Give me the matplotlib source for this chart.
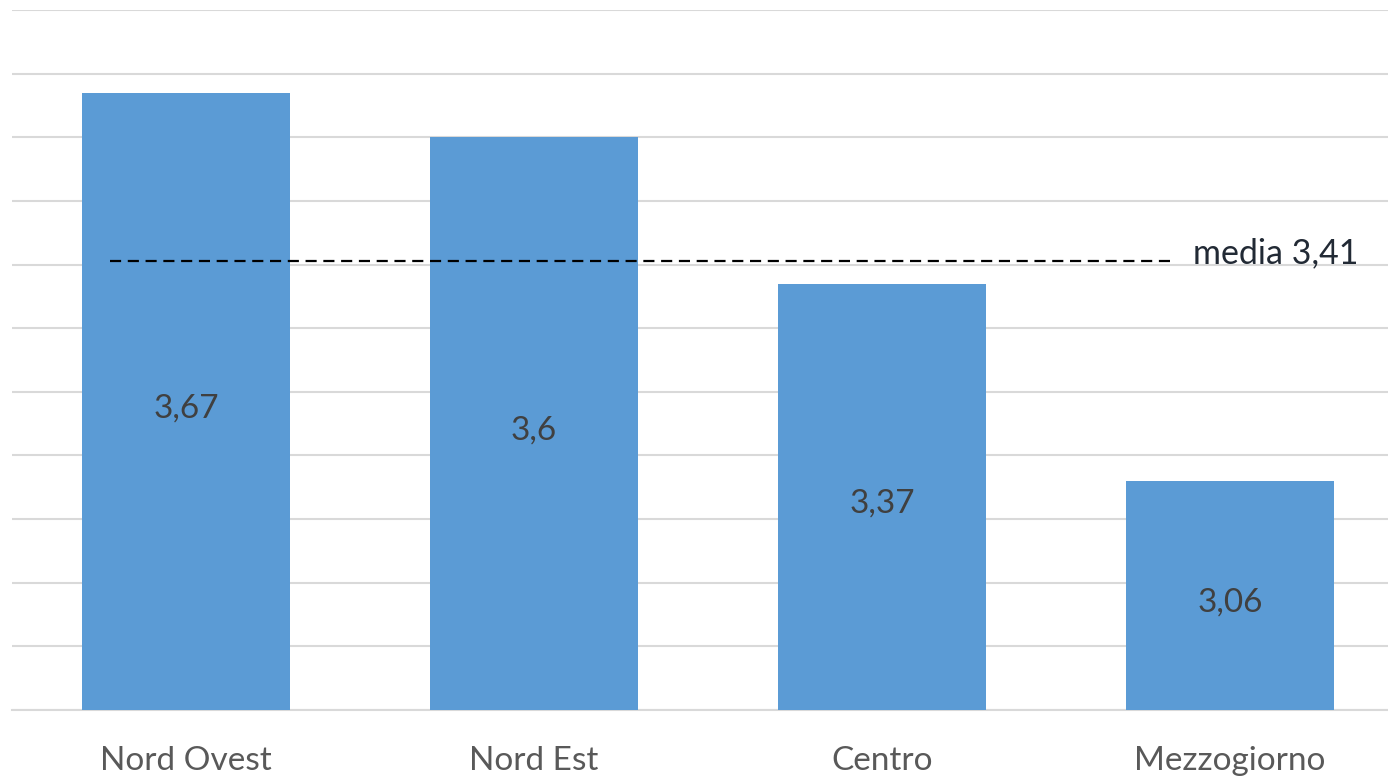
import numpy as np
import matplotlib.pyplot as plt

regioni = ['Nord Ovest', 'Nord Est', 'Centro', 'Mezzogiorno']
valori = [3.67, 3.6, 3.37, 3.06]
media = 3.405
etichette = ['3,67', '3,6', '3,37', '3,06']
etichetta_media = 'media 3,41'

plt.rcParams['font.family'] = ['Lato', 'DejaVu Sans']

fig = plt.figure(figsize=(13.88, 7.77), dpi=100)
# axes deliberately extend past the right edge, as in the original crop
ax = fig.add_axes([12/1388, 67/777, 1392/1388, 700/777])

x = np.arange(len(regioni))
ax.bar(x, [v - 2.7 for v in valori], bottom=2.7, width=0.6, color='#5B9BD5', zorder=3)

for xi, v, lab in zip(x, valori, etichette):
    ax.annotate(lab, (xi, (v + 2.7) / 2), xytext=(0, -5), textcoords='offset points',
                ha='center', va='center', fontsize=24, color='#404040', zorder=4)

ax.plot([-0.218, 2.828], [media, media], color='black', lw=1.6,
        dashes=(5, 3), zorder=5)
ax.annotate(etichetta_media, (2.895, media), xytext=(0, 6), textcoords='offset points',
            ha='left', va='center', fontsize=24.5, color='#222A35')

ax.set_xlim(-0.5, 3.5)
ax.set_ylim(2.7, 3.8)
ax.set_yticks(np.arange(2.7, 3.81, 0.1))
ax.yaxis.grid(True, color='#D9D9D9', lw=1.5, zorder=0)
ax.set_yticklabels([])
ax.tick_params(axis='y', length=0)
ax.set_xticks(x)
ax.set_xticklabels(regioni, fontsize=24, color='#595959')
ax.tick_params(axis='x', length=0, pad=26)
for s in ['top', 'left', 'right']:
    ax.spines[s].set_visible(False)
ax.spines['bottom'].set_color('#D9D9D9')
ax.spines['bottom'].set_linewidth(1.5)

fig.savefig('out.png', dpi=100)
